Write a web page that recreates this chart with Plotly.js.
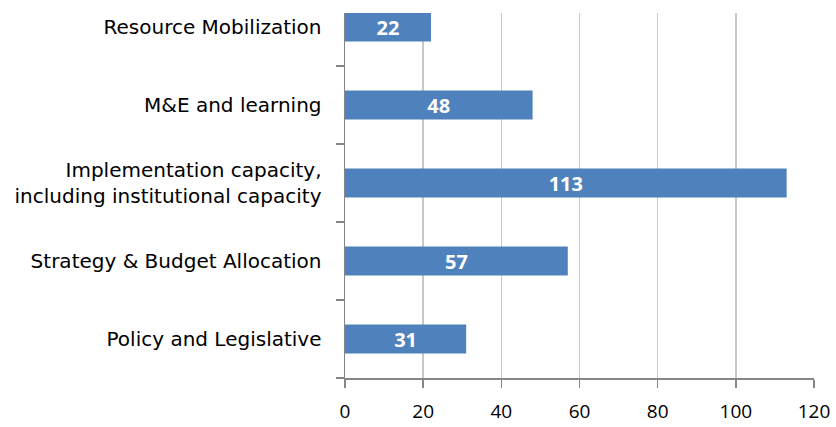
<!DOCTYPE html>
<html><head><meta charset="utf-8">
<script src="https://cdn.plot.ly/plotly-3.0.1.min.js"></script>
<style>html,body{margin:0;padding:0;background:#fff}#c{width:836px;height:427px}</style>
</head><body><div id="c"></div>
<script>
const categories = ["Policy and Legislative","Strategy & Budget Allocation","Implementation capacity,<br>including institutional capacity","M&E and learning","Resource Mobilization"];
const values = [31,57,113,48,22];
const xTicks = [0,20,40,60,80,100,120];

const FONT = '"Open Sans", "DejaVu Sans", sans-serif';
const YFONT = '"DejaVu Sans", "Open Sans", sans-serif';
Plotly.newPlot('c',[{
  type:'bar', orientation:'h', y:categories, x:values,
  text:values.map(String), textposition:'inside', insidetextanchor:'middle', textangle:0, constraintext:'none',
  textfont:{family:FONT, size:20, color:'#ffffff', weight:'bold'},
  marker:{color:'#4F81BD', line:{width:0}}, width:0.37, cliponaxis:true,
  hoverinfo:'none'
}],{
  width:836, height:427, margin:{l:345,r:22,t:13,b:49},
  paper_bgcolor:'#fff', plot_bgcolor:'#fff', showlegend:false,
  xaxis:{range:[0,120], tickvals:xTicks, ticks:'outside', ticklen:8, tickcolor:'#868686', tickwidth:1.5,
    showgrid:true, gridcolor:'#C8C8C8', gridwidth:1.5, zeroline:false, showline:true, linecolor:'#868686', linewidth:1.5,
    tickfont:{family:FONT, size:19, color:'#000'}, ticklabelstandoff:8, fixedrange:true},
  yaxis:{type:'category', range:[-0.5,4.18], tickson:'boundaries', ticks:'outside', ticklen:8, tickcolor:'#868686', tickwidth:1.5,
    showgrid:false, zeroline:false, showline:true, linecolor:'#868686', linewidth:1.5,
    tickfont:{family:YFONT, size:20, color:'#000'}, ticklabelstandoff:18, fixedrange:true}
},{displayModeBar:false, staticPlot:true});
</script></body></html>
